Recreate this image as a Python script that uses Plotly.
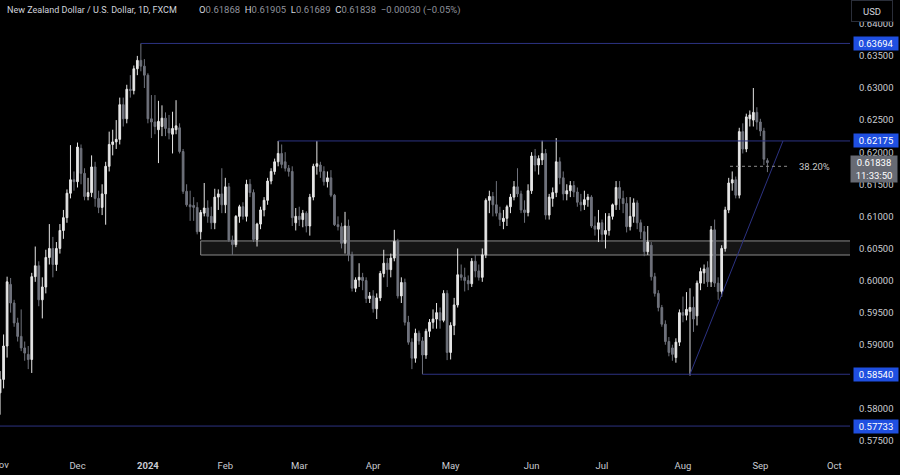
import pandas as pd
import plotly.graph_objects as go

# ---------------- data ----------------
holidays = ["2023-12-25", "2024-01-01"]
dates = [d for d in pd.bdate_range("2023-11-01", "2024-09-04") if d.strftime("%Y-%m-%d") not in holidays]

opens = [0.5825,0.5846,0.5898,0.5994,0.5965,0.5934,0.5913,0.5895,0.5885,0.5877,
         0.6006,0.6023,0.5970,0.5990,0.6036,0.6050,0.6025,0.6050,0.6078,0.6098,
         0.6136,0.6157,0.6154,0.6206,0.6167,0.6131,0.6137,0.6177,0.6128,0.6114,
         0.6135,0.6178,0.6212,0.6216,0.6220,0.6274,0.6252,0.6298,0.6296,0.6330,
         0.6343,0.6334,0.6320,0.6252,0.6247,0.6235,0.6240,0.6253,0.6237,0.6228,
         0.6235,0.6238,0.6201,0.6139,0.6118,0.6117,0.6114,0.6076,0.6105,0.6113,
         0.6100,0.6090,0.6130,0.6135,0.6118,0.6146,0.6063,0.6056,0.6100,0.6115,
         0.6100,0.6150,0.6137,0.6064,0.6088,0.6110,0.6125,0.6155,0.6170,0.6185,
         0.6198,0.6185,0.6175,0.6170,0.6090,0.6100,0.6095,0.6105,0.6085,0.6130,
         0.6178,0.6180,0.6170,0.6154,0.6160,0.6133,0.6087,0.6084,0.6058,0.6085,
         0.6040,0.5988,0.6001,0.6005,0.6000,0.5972,0.5976,0.5956,0.5973,0.6011,
         0.6027,0.6017,0.6035,0.6061,0.5976,0.5997,0.5935,0.5904,0.5879,0.5918,
         0.5906,0.5884,0.5921,0.5935,0.5940,0.5950,0.5938,0.5980,0.5888,0.5930,
         0.5962,0.6009,0.6005,0.6000,0.5995,0.6030,0.6015,0.6005,0.6040,0.6125,
         0.6131,0.6118,0.6105,0.6092,0.6097,0.6115,0.6130,0.6146,0.6135,0.6110,
         0.6106,0.6140,0.6194,0.6180,0.6188,0.6198,0.6102,0.6128,0.6137,0.6185,
         0.6160,0.6135,0.6140,0.6148,0.6138,0.6122,0.6118,0.6126,0.6130,0.6085,
         0.6080,0.6090,0.6072,0.6078,0.6100,0.6118,0.6145,0.6128,0.6120,0.6084,
         0.6100,0.6121,0.6090,0.6076,0.6045,0.6055,0.6006,0.5980,0.5958,0.5932,
         0.5905,0.5895,0.5880,0.5904,0.5950,0.5946,0.5952,0.5958,0.5945,0.5996,
         0.6012,0.6020,0.5998,0.6079,0.5996,0.5983,0.6050,0.6110,0.6152,0.6157,
         0.6133,0.6232,0.6205,0.6252,0.6250,0.6262,0.6247,0.6233,0.61868]
highs = [0.5859,0.5916,0.6006,0.6004,0.5970,0.5942,0.5955,0.5905,0.5898,0.6012,
         0.6053,0.6030,0.6005,0.6048,0.6088,0.6068,0.6060,0.6088,0.6110,0.6142,
         0.6211,0.6170,0.6215,0.6212,0.6175,0.6160,0.6195,0.6185,0.6140,0.6150,
         0.6185,0.6232,0.6235,0.6250,0.6285,0.6285,0.6305,0.6320,0.6335,0.6350,
         0.63694,0.6345,0.6323,0.6289,0.6289,0.6280,0.6273,0.6262,0.6258,0.6263,
         0.6281,0.6245,0.6205,0.6150,0.6140,0.6130,0.6122,0.6110,0.6152,0.6125,
         0.6115,0.6143,0.6142,0.6175,0.6160,0.6152,0.6070,0.6102,0.6118,0.6122,
         0.6157,0.6158,0.6142,0.6090,0.6115,0.6130,0.6160,0.6175,0.6190,0.62175,
         0.6212,0.6200,0.6180,0.6178,0.6113,0.6115,0.6110,0.6108,0.6135,0.6182,
         0.62175,0.6185,0.6178,0.6170,0.6172,0.6135,0.6100,0.6090,0.6107,0.6095,
         0.6045,0.6005,0.6027,0.6012,0.6005,0.5982,0.5985,0.5980,0.6015,0.6048,
         0.6035,0.6042,0.6079,0.6065,0.6005,0.6003,0.5945,0.5910,0.5925,0.5922,
         0.5912,0.5925,0.5940,0.5955,0.5965,0.5958,0.5985,0.5985,0.5935,0.5973,
         0.6050,0.6025,0.6020,0.6008,0.6035,0.6040,0.6025,0.6050,0.6128,0.6140,
         0.6138,0.6155,0.6115,0.6110,0.6118,0.6135,0.6155,0.6175,0.6140,0.6125,
         0.6150,0.6200,0.6205,0.6195,0.6218,0.6205,0.6135,0.6145,0.6222,0.6192,
         0.6170,0.6150,0.6155,0.6155,0.6145,0.6135,0.6140,0.6135,0.6133,0.6100,
         0.6110,0.6095,0.6105,0.6105,0.6120,0.6155,0.6155,0.6140,0.6130,0.6130,
         0.6128,0.6125,0.6095,0.6085,0.6085,0.6060,0.6012,0.5985,0.5962,0.5938,
         0.5912,0.5900,0.5910,0.5955,0.5975,0.5982,0.5988,0.5975,0.6000,0.6020,
         0.6025,0.6030,0.6085,0.6095,0.6005,0.6055,0.6115,0.6160,0.6170,0.6162,
         0.6238,0.6245,0.6260,0.6265,0.6300,0.6270,0.6252,0.6238,0.61905]
lows = [0.5791,0.5832,0.5880,0.5950,0.5928,0.5905,0.5890,0.5875,0.5862,0.5856,
        0.5998,0.5960,0.5941,0.5980,0.6025,0.6005,0.6015,0.6042,0.6065,0.6090,
        0.6128,0.6140,0.6145,0.6150,0.6125,0.6125,0.6130,0.6115,0.6105,0.6102,
        0.6087,0.6170,0.6195,0.6205,0.6212,0.6240,0.6245,0.6285,0.6290,0.6320,
        0.6326,0.6300,0.6245,0.6222,0.6228,0.6183,0.6225,0.6225,0.6220,0.6198,
        0.6228,0.6198,0.6135,0.6115,0.6093,0.6093,0.6072,0.6064,0.6100,0.6090,
        0.6080,0.6080,0.6110,0.6105,0.6105,0.6060,0.6040,0.6052,0.6090,0.6095,
        0.6092,0.6130,0.6060,0.6053,0.6080,0.6100,0.6118,0.6150,0.6165,0.6178,
        0.6175,0.6170,0.6162,0.6085,0.6078,0.6085,0.6083,0.6075,0.6070,0.6125,
        0.6165,0.6160,0.6148,0.6145,0.6130,0.6085,0.6078,0.6050,0.6042,0.6030,
        0.5983,0.5982,0.5990,0.5985,0.5965,0.5965,0.5950,0.5940,0.5968,0.6005,
        0.5990,0.6005,0.6030,0.5972,0.5965,0.5930,0.5900,0.5862,0.5872,0.5900,
        0.5854,0.5878,0.5912,0.5925,0.5925,0.5925,0.5935,0.5876,0.5877,0.5915,
        0.5958,0.6000,0.5983,0.5985,0.5990,0.6005,0.6000,0.5998,0.6035,0.6105,
        0.6100,0.6100,0.6085,0.6080,0.6085,0.6105,0.6125,0.6130,0.6105,0.6090,
        0.6100,0.6135,0.6170,0.6165,0.6180,0.6095,0.6095,0.6115,0.6130,0.6150,
        0.6125,0.6125,0.6130,0.6130,0.6115,0.6108,0.6110,0.6115,0.6082,0.6070,
        0.6060,0.6060,0.6050,0.6070,0.6095,0.6110,0.6110,0.6105,0.6075,0.6078,
        0.6090,0.6080,0.6065,0.6038,0.6040,0.6000,0.5975,0.5952,0.5928,0.5900,
        0.5882,0.5875,0.5872,0.5898,0.5935,0.5938,0.5852,0.5920,0.5930,0.5985,
        0.5995,0.5990,0.5990,0.5990,0.5970,0.5975,0.6045,0.6105,0.6140,0.6128,
        0.6128,0.6198,0.6200,0.6240,0.6240,0.6235,0.6225,0.6180,0.61689]
closes = [0.5846,0.5898,0.5998,0.5965,0.5934,0.5913,0.5895,0.5887,0.5877,0.6006,
          0.6023,0.5970,0.5990,0.6036,0.6050,0.6025,0.6050,0.6078,0.6098,0.6136,
          0.6157,0.6154,0.6208,0.6167,0.6131,0.6137,0.6177,0.6128,0.6114,0.6135,
          0.6178,0.6212,0.6216,0.6220,0.6274,0.6252,0.6298,0.6296,0.6330,0.6343,
          0.6334,0.6320,0.6252,0.6247,0.6240,0.6248,0.6253,0.6237,0.6230,0.6237,
          0.6241,0.6201,0.6139,0.6118,0.6115,0.6114,0.6076,0.6106,0.6113,0.6100,
          0.6090,0.6130,0.6135,0.6118,0.6146,0.6063,0.6056,0.6100,0.6115,0.6100,
          0.6150,0.6137,0.6064,0.6088,0.6110,0.6125,0.6155,0.6170,0.6185,0.6198,
          0.6181,0.6175,0.6170,0.6098,0.6100,0.6095,0.6105,0.6085,0.6130,0.6178,
          0.6182,0.6170,0.6154,0.6160,0.6133,0.6087,0.6084,0.6058,0.6085,0.6040,
          0.5988,0.6001,0.6005,0.6000,0.5972,0.5976,0.5956,0.5973,0.6011,0.6027,
          0.6017,0.6035,0.6061,0.5976,0.5997,0.5935,0.5904,0.5879,0.5918,0.5906,
          0.5884,0.5921,0.5935,0.5940,0.5950,0.5938,0.5980,0.5888,0.5930,0.5962,
          0.6009,0.6005,0.6000,0.5995,0.6030,0.6015,0.6005,0.6040,0.6125,0.6131,
          0.6118,0.6105,0.6095,0.6097,0.6115,0.6130,0.6146,0.6135,0.6110,0.6106,
          0.6140,0.6194,0.6180,0.6190,0.6198,0.6102,0.6130,0.6137,0.6185,0.6160,
          0.6135,0.6140,0.6148,0.6138,0.6122,0.6118,0.6126,0.6130,0.6085,0.6080,
          0.6090,0.6072,0.6078,0.6100,0.6118,0.6145,0.6128,0.6120,0.6084,0.6100,
          0.6121,0.6090,0.6076,0.6045,0.6060,0.6006,0.5980,0.5958,0.5932,0.5905,
          0.5888,0.5885,0.5904,0.5950,0.5946,0.5955,0.5958,0.5940,0.5996,0.6014,
          0.6018,0.5998,0.6079,0.5996,0.5983,0.6050,0.6110,0.6152,0.6157,0.6133,
          0.6232,0.6205,0.6255,0.6258,0.6262,0.6247,0.6233,0.6189,0.61838]

# horizontal levels: (start date, price)
levels = [("2023-12-28", 0.63694), ("2024-02-22", 0.62175),
          ("2024-04-19", 0.58540), ("2023-10-26", 0.57733)]
zone = ("2024-01-23", 0.60398, 0.60617)
trend = (("2024-08-05", 0.58540), ("2024-09-10 10:00", 0.62175))
fib = ("2024-08-20 09:00", "2024-09-12 10:00", 0.6178, "38.20%")
last_price, countdown = 0.61838, "11:33:50"

# 0.585 is hidden behind the 0.58540 label in the reference
price_ticks = [0.575, 0.58, 0.59, 0.595, 0.60, 0.605, 0.61, 0.615, 0.62, 0.625, 0.63, 0.635, 0.64]
month_ticks = ["2023-12-01", "2024-01-02", "2024-02-01", "2024-03-01", "2024-04-01",
               "2024-05-01", "2024-06-03", "2024-07-01", "2024-08-01", "2024-09-02", "2024-10-01"]
month_labels = ["Dec", "<b>2024</b>", "Feb", "Mar", "Apr", "May", "Jun", "Jul", "Aug", "Sep", "Oct"]
first_month = ("2023-11-01", "Nov")   # sits on the left edge, half cut off

assert len(dates) == len(opens) == len(highs) == len(lows) == len(closes)

# ---------------- style ----------------
FONT = "Roboto"
UP = "#e6e6e6"
DOWN = "#6f727c"
LINE = "#2c3282"
LABEL_BLUE = "#1f4fe0"
TXT = "#c9cbd1"
FAR = "2024-12-31"

fig = go.Figure(go.Candlestick(
    x=dates, open=opens, high=highs, low=lows, close=closes,
    increasing=dict(line=dict(color=UP, width=1), fillcolor=UP),
    decreasing=dict(line=dict(color=DOWN, width=1), fillcolor=DOWN),
    whiskerwidth=0, hoverinfo="skip",
))

shapes = []
shapes.append(dict(type="rect", xref="x", yref="y", x0=zone[0], x1=FAR, y0=zone[1], y1=zone[2],
                   fillcolor="#151515", line=dict(color="#8a8a8a", width=1), layer="below"))
for start, lvl in levels:
    shapes.append(dict(type="line", xref="x", yref="y", x0=start, x1=FAR, y0=lvl, y1=lvl,
                       line=dict(color=LINE, width=1)))
shapes.append(dict(type="line", xref="x", yref="y", x0=trend[0][0], y0=trend[0][1],
                   x1=trend[1][0], y1=trend[1][1], line=dict(color=LINE, width=1)))
shapes.append(dict(type="line", xref="x", yref="y", x0=fib[0], x1=fib[1], y0=fib[2], y1=fib[2],
                   line=dict(color="#8c8c8c", width=1, dash="dot")))

PW = 850.0  # plot width in px
PH = 455.0

def px_x(px):
    return px / PW

def px_y(py):
    return 1 - py / PH

annotations = []
# header
annotations.append(dict(xref="paper", yref="paper", x=px_x(5), y=px_y(10), xanchor="left", yanchor="middle",
                        showarrow=False, text="New Zealand Dollar / U.S. Dollar, 1D, FXCM",
                        font=dict(family=FONT, size=9, color="#d1d4dc")))
val = "#8f929c"
lab = "#d1d4dc"
ohlc_txt = (f"<span style='color:{lab}'>O</span><span style='color:{val}'>{opens[-1]:.5f}</span>\u00a0\u00a0"
            f"<span style='color:{lab}'>H</span><span style='color:{val}'>{highs[-1]:.5f}</span>\u00a0\u00a0"
            f"<span style='color:{lab}'>L</span><span style='color:{val}'>{lows[-1]:.5f}</span>\u00a0\u00a0"
            f"<span style='color:{lab}'>C</span><span style='color:{val}'>{closes[-1]:.5f}</span>\u00a0\u00a0"
            f"<span style='color:{val}'>\u22120.00030 (\u22120.05%)</span>")
annotations.append(dict(xref="paper", yref="paper", x=px_x(197), y=px_y(10), xanchor="left", yanchor="middle",
                        showarrow=False, text=ohlc_txt, font=dict(family=FONT, size=9.5, color=val)))
# USD button
annotations.append(dict(xref="paper", yref="paper", x=px_x(871.5), y=px_y(11), xanchor="center", yanchor="middle",
                        showarrow=False, text="USD", font=dict(family=FONT, size=9.5, color="#d1d4dc"),
                        bgcolor="#000000", bordercolor="#2a2e39", borderwidth=1, borderpad=2, width=36, height=16))
# level price labels
for start, lvl in levels:
    annotations.append(dict(xref="paper", yref="y", x=px_x(852.5), y=lvl, xanchor="left", yanchor="middle",
                            showarrow=False, text=f"{lvl:.5f}", font=dict(family=FONT, size=9.5, color="#ffffff"),
                            bgcolor=LABEL_BLUE, borderpad=1, width=42, height=11))
# last price label
annotations.append(dict(xref="paper", yref="y", x=px_x(850.5), y=last_price, xanchor="left", yanchor="top",
                        yshift=7.5, showarrow=False, text=f"{last_price:.5f}<br>{countdown}",
                        font=dict(family=FONT, size=9.5, color="#ffffff"),
                        bgcolor="#676a73", borderpad=1, width=44, height=24))
# fib label
annotations.append(dict(xref="x", yref="y", x="2024-09-16 09:00", y=fib[2], xanchor="left", yanchor="middle",
                        showarrow=False, text=fib[3], font=dict(family=FONT, size=9.5, color="#c8c8c8")))
# first month label on the left edge
annotations.append(dict(xref="x", yref="paper", x=first_month[0], y=px_y(465), xanchor="center", yanchor="middle",
                        showarrow=False, text=first_month[1], font=dict(family=FONT, size=9.5, color=TXT)))

fig.update_layout(
    width=900, height=475,
    margin=dict(l=0, r=50, t=0, b=20),
    paper_bgcolor="#000000", plot_bgcolor="#000000",
    showlegend=False,
    shapes=shapes, annotations=annotations,
    xaxis=dict(
        type="date",
        range=["2023-10-31 23:35", "2024-10-07 11:00"],
        rangebreaks=[dict(bounds=["sat", "mon"]), dict(values=holidays)],
        rangeslider=dict(visible=False),
        tickvals=month_ticks, ticktext=month_labels,
        showgrid=False, zeroline=False, showline=False, ticks="",
        ticklabelstandoff=3,
        tickfont=dict(family=FONT, size=9.5, color=TXT),
    ),
    yaxis=dict(
        side="right",
        range=[0.57282, 0.64371],
        tickvals=price_ticks, ticktext=[f"{v:.5f}" for v in price_ticks],
        showgrid=False, zeroline=False, showline=False, ticks="",
        ticklabelstandoff=8,
        tickfont=dict(family=FONT, size=9.5, color=TXT),
    ),
)

fig.write_html("out.html", config={"displayModeBar": False},
               post_script="document.body.style.margin='0';document.body.style.background='#000';")
